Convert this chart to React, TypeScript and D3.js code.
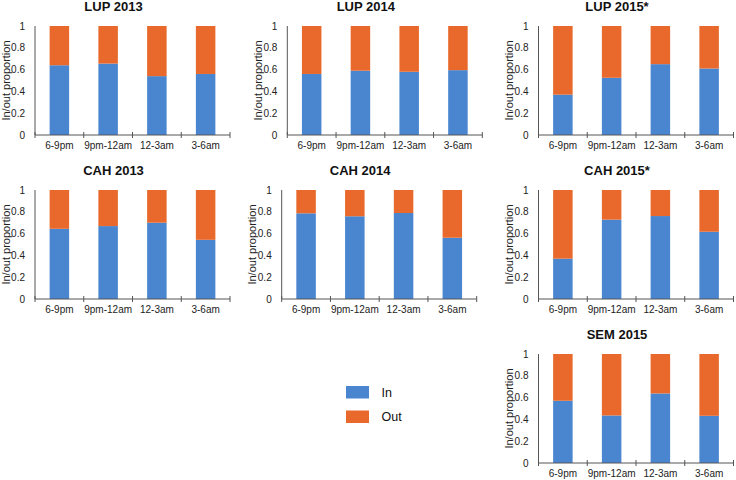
import React from "react";
import * as d3 from "d3";

const categories = ["6-9pm", "9pm-12am", "12-3am", "3-6am"];
const yTicks = [0, 0.2, 0.4, 0.6, 0.8, 1];
const tickLabels = ["0", "0.2", "0.4", "0.6", "0.8", "1"];
const seriesNames = ["In", "Out"];

const lup2013In = [0.64, 0.655, 0.54, 0.56];
const lup2013Out = [0.36, 0.345, 0.46, 0.44];
const lup2014In = [0.56, 0.59, 0.58, 0.595];
const lup2014Out = [0.44, 0.41, 0.42, 0.405];
const lup2015In = [0.37, 0.525, 0.65, 0.61];
const lup2015Out = [0.63, 0.475, 0.35, 0.39];
const cah2013In = [0.644, 0.669, 0.7, 0.543];
const cah2013Out = [0.356, 0.331, 0.3, 0.457];
const cah2014In = [0.786, 0.759, 0.789, 0.562];
const cah2014Out = [0.214, 0.241, 0.211, 0.438];
const cah2015In = [0.37, 0.728, 0.761, 0.617];
const cah2015Out = [0.63, 0.272, 0.239, 0.383];
const sem2015In = [0.571, 0.436, 0.638, 0.433];
const sem2015Out = [0.429, 0.564, 0.362, 0.567];

const panels = [
  { title: "LUP 2013", inV: lup2013In, outV: lup2013Out, left: 35, top: 26 },
  { title: "LUP 2014", inV: lup2014In, outV: lup2014Out, left: 287.3, top: 26 },
  { title: "LUP 2015*", inV: lup2015In, outV: lup2015Out, left: 538.5, top: 26 },
  { title: "CAH 2013", inV: cah2013In, outV: cah2013Out, left: 35, top: 190 },
  { title: "CAH 2014", inV: cah2014In, outV: cah2014Out, left: 281.7, top: 190 },
  { title: "CAH 2015*", inV: cah2015In, outV: cah2015Out, left: 538.5, top: 190 },
  { title: "SEM 2015", inV: sem2015In, outV: sem2015Out, left: 538.5, top: 354 },
];

const W = 195;
const H = 109;
const COLORS = ["#4a86d0", "#e8692b"];
const AXIS = "#555";
const FONT = "'Liberation Sans', Arial, Helvetica, sans-serif";

function Panel({ p }: { p: any }) {
  const x = d3.scaleBand<string>().domain(categories).range([0, W]).paddingInner(0.6).paddingOuter(0.3);
  const y = d3.scaleLinear().domain([0, 1]).range([H, 0]);
  const rows = categories.map((c, i) => ({ cat: c, In: p.inV[i], Out: p.outV[i] }));
  const stacked = d3.stack<any>().keys(seriesNames)(rows);
  const step = W / categories.length;
  const boundaries = d3.range(categories.length + 1).map((i) => i * step);
  return (
    <g transform={`translate(${p.left},${p.top})`}>
      <text x={78.5} y={-15} textAnchor="middle" fontWeight="bold" fontSize={13} fill="#111">
        {p.title}
      </text>
      <text
        transform={`translate(-25.5,${H / 2}) rotate(-90)`}
        textAnchor="middle"
        fontSize={11}
        fill="#222"
      >
        In/out proportion
      </text>
      {stacked.map((s, si) => (
        <g key={si} fill={COLORS[si]}>
          {s.map((d: any, i: number) => (
            <rect
              key={i}
              x={x(d.data.cat)}
              y={y(d[1])}
              width={x.bandwidth()}
              height={y(d[0]) - y(d[1])}
            />
          ))}
        </g>
      ))}
      <line x1={0} x2={0} y1={0} y2={H} stroke={AXIS} strokeWidth={1} />
      <line x1={0} x2={W} y1={H} y2={H} stroke={AXIS} strokeWidth={1} />
      {boundaries.map((b, i) => (
        <line key={i} x1={b} x2={b} y1={H - 3} y2={H + 3} stroke={AXIS} strokeWidth={1} />
      ))}
      {yTicks.map((t, i) => (
        <text key={i} x={-10} y={y(t)} dy="0.35em" textAnchor="end" fontSize={10} fill="#222">
          {tickLabels[i]}
        </text>
      ))}
      {categories.map((c) => (
        <text key={c} x={(x(c) as number) + x.bandwidth() / 2} y={H + 13.5} textAnchor="middle" fontSize={10} fill="#222">
          {c}
        </text>
      ))}
    </g>
  );
}

export default function App() {
  return (
    <svg
      width={736}
      height={480}
      style={{ position: "absolute", left: 0, top: 0, background: "#fff" }}
      fontFamily={FONT}
    >
      {panels.map((p) => (
        <Panel key={p.title} p={p} />
      ))}
      <g transform="translate(346,386)">
        {seriesNames.map((n, i) => (
          <g key={n} transform={`translate(0,${i * 24.5})`}>
            <rect width={23} height={12.5} fill={COLORS[i]} />
            <text x={35.5} y={10.8} fontSize={12.5} fill="#111">
              {n}
            </text>
          </g>
        ))}
      </g>
    </svg>
  );
}
